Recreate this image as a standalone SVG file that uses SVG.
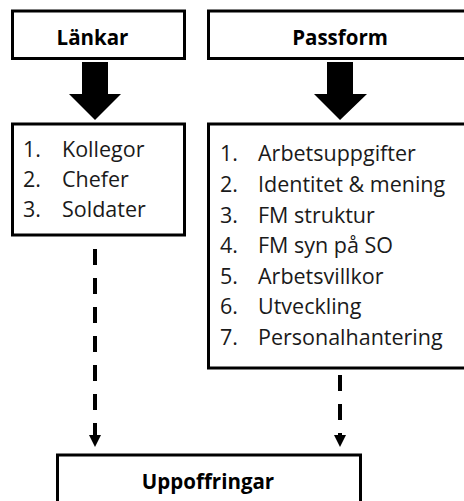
<svg xmlns="http://www.w3.org/2000/svg" width="464" height="501" viewBox="0 0 464 501">
<defs>
<style>
.box{fill:#fff;stroke:#000;stroke-width:3}
.title{font-family:"Open Sans","Noto Sans",sans-serif;font-weight:bold;font-size:20.5px;fill:#000}
.item{font-family:"Open Sans","Noto Sans",sans-serif;font-size:21.5px;fill:#1a1a1a}
.dash{stroke:#000;stroke-width:4;stroke-dasharray:16 13;fill:none}
</style>
<marker id="ah" viewBox="0 0 12 12" refX="0" refY="6" markerWidth="12" markerHeight="12" markerUnits="userSpaceOnUse" orient="auto">
<path d="M0,0 L12,6 L0,12 Z" fill="#000"/>
</marker>
</defs>
<rect width="464" height="501" fill="#fff"/>
<g id="lankar">
<rect class="box" x="12.5" y="11" width="172" height="47.5"/>
<text class="title" x="92.5" y="45" text-anchor="middle">Länkar</text>
</g>
<g id="passform">
<rect class="box" x="208.5" y="11" width="262" height="47.5"/>
<text class="title" x="340" y="45" text-anchor="middle">Passform</text>
</g>
<g id="lankar-list">
<rect class="box" x="12.5" y="124" width="172" height="111"/>
<text class="item" x="23" y="157">1.</text><text class="item" x="62" y="157">Kollegor</text>
<text class="item" x="23" y="187">2.</text><text class="item" x="62" y="187">Chefer</text>
<text class="item" x="23" y="217">3.</text><text class="item" x="62" y="217">Soldater</text>
</g>
<g id="passform-list">
<rect class="box" x="208.5" y="124" width="262" height="244"/>
<text class="item" x="220" y="161">1.</text><text class="item" x="258" y="161">Arbetsuppgifter</text>
<text class="item" x="220" y="192">2.</text><text class="item" x="258" y="192">Identitet &amp; mening</text>
<text class="item" x="220" y="222.5">3.</text><text class="item" x="258" y="222.5">FM struktur</text>
<text class="item" x="220" y="253">4.</text><text class="item" x="258" y="253">FM syn på SO</text>
<text class="item" x="220" y="283.5">5.</text><text class="item" x="258" y="283.5">Arbetsvillkor</text>
<text class="item" x="220" y="314">6.</text><text class="item" x="258" y="314">Utveckling</text>
<text class="item" x="220" y="345">7.</text><text class="item" x="258" y="345">Personalhantering</text>
</g>
<g id="uppoffringar">
<rect class="box" x="57.5" y="455" width="303" height="60"/>
<text class="title" x="208" y="489" text-anchor="middle">Uppoffringar</text>
</g>
<g id="connectors">
<path d="M82,62 H108 V94 H121 L95,120 L69,94 H82 Z" fill="#000"/>
<path d="M327,62 H353 V94 H367 L340,120 L314,94 H327 Z" fill="#000"/>
<path class="dash" d="M95,249 V435" marker-end="url(#ah)"/>
<path class="dash" d="M340,375 V435" marker-end="url(#ah)"/>
</g>
</svg>
